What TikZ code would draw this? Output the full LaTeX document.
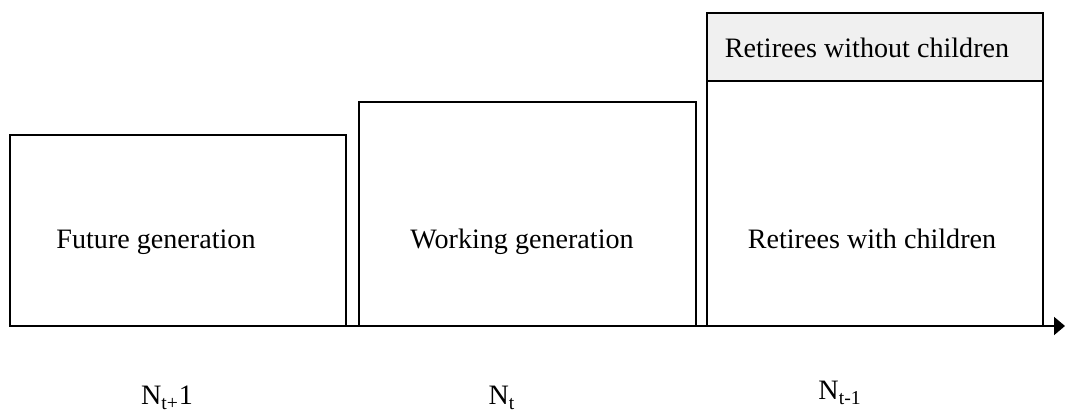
\documentclass[tikz,border=0pt]{standalone}
\usepackage{fontspec}
\setmainfont{Liberation Serif}
\usetikzlibrary{arrows.meta}
\definecolor{bandgray}{HTML}{F0F0F0}

\begin{document}
\begin{tikzpicture}[box/.style={line width=1.1pt}, lbl/.style={font=\fontsize{16}{19}\selectfont, anchor=base}]
  \useasboundingbox (0,0) rectangle (21.3,8.32);
  \fill[bandgray](14.14,6.7) rectangle (20.86,8.06);
  \draw[box](0.2,1.8) rectangle (6.92,5.62);
  \draw[box](7.18,1.8) rectangle (13.92,6.28);
  \draw[box](14.14,1.8) rectangle (20.86,8.06);
  \draw[box](14.14,6.7)--(20.86,6.7);
  \coordinate (start) at (0.2,1.8);
  \coordinate (end) at (21.3,1.8);
  \draw[box,-{Triangle[length=0.22cm,width=0.36cm]}](start)--(end);
  \node[lbl] (future) at (3.12, 3.34) {Future generation};
  \node[lbl] (working) at (10.44, 3.34) {Working generation};
  \node[lbl] (with) at (17.44, 3.34) {Retirees with children};
  \node[lbl] (without) at (17.34, 7.16) {Retirees without children};
  \node[lbl] (nnext) at (3.34, 0.22) {N\textsubscript{t+}1};
  \node[lbl] (ncur) at (10.04, 0.22) {N\textsubscript{t}};
  \node[lbl] (nprev) at (16.8, 0.32) {N\textsubscript{t-1}};
\end{tikzpicture}
\end{document}
